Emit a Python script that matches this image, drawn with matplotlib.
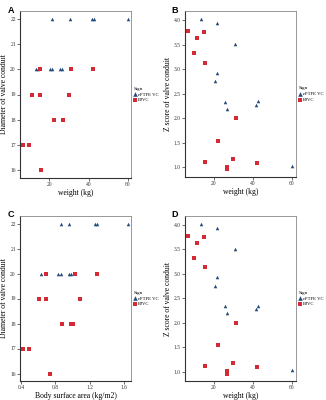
import matplotlib.pyplot as plt

plt.rcParams['font.family'] = ['Liberation Serif', 'DejaVu Serif']

# Panel A / C : diameter of valve conduit
a_tri_w = [21.6, 30.8, 41.7, 42.9, 60.0, 13.0, 14.3, 20.3, 21.3, 25.6, 26.7]
a_tri_d = [22, 22, 22, 22, 22, 20, 20, 20, 20, 20, 20]
a_sq_w = [15.3, 31.3, 42.2, 11.1, 15.3, 29.8, 22.2, 26.8, 26.8, 6.4, 9.6, 15.5]
a_sq_d = [20, 20, 20, 19, 19, 19, 18, 18, 18, 17, 17, 16]

c_tri_bsa = [0.865, 0.954, 1.257, 1.284, 1.64, 0.636, 0.833, 0.861, 0.954, 0.98]
c_tri_d = [22, 22, 22, 22, 22, 20, 20, 20, 20, 20]
c_sq_bsa = [0.687, 1.035, 1.286, 0.609, 0.687, 1.093, 0.876, 0.98, 1.007, 0.427, 0.49, 0.737]
c_sq_d = [20, 20, 20, 19, 19, 19, 18, 18, 18, 17, 17, 16]

# Panel B / D : Z score of valve conduit
b_tri_w = [13.6, 21.7, 30.9, 21.7, 20.7, 25.8, 26.7, 41.8, 43.0, 60.2]
b_tri_z = [4.03, 3.93, 3.51, 2.93, 2.75, 2.34, 2.19, 2.27, 2.35, 1.03]
b_sq_w = [6.9, 11.4, 15.0, 10.0, 15.5, 31.3, 22.2, 15.7, 30.0, 26.9, 26.9, 42.0]
b_sq_z = [3.77, 3.64, 3.75, 3.33, 3.13, 2.0, 1.54, 1.12, 1.18, 1.02, 0.96, 1.09]

col_tri = '#234B7A'
col_sq = '#D42A36'

fig = plt.figure(figsize=(3.26, 4.0), dpi=100)

boxes = {
    'A': [0.0613, 0.555, 0.3405, 0.4175],
    'B': [0.5675, 0.5575, 0.3405, 0.415],
    'C': [0.0613, 0.0475, 0.3405, 0.4125],
    'D': [0.5675, 0.0475, 0.3405, 0.4125],
}
letter_pos = {'A': (8, 6), 'B': (171, 6), 'C': (8, 210), 'D': (171, 210)}


def panel(key, xt, yt, xs, ys, xlabel, ylabel, xticks, yticks, ytl, xlim):
    ax = fig.add_axes(boxes[key])
    ax.scatter(xt, yt, marker='^', s=6.5, color=col_tri, linewidths=0, label='ePTFE VC')
    ax.scatter(xs, ys, marker='s', s=5.5, color=col_sq, linewidths=0, label='BJVC')
    ax.set_xticks(xticks)
    ax.set_yticks(yticks)
    ax.set_yticklabels(ytl)
    ax.set_xlim(xlim)
    ax.set_xlabel(xlabel, fontsize=5.5, labelpad=1.5)
    ax.set_ylabel(ylabel, fontsize=5.5, labelpad=1.5)
    ax.tick_params(labelsize=4, length=2, width=0.5, pad=1, colors='#333333')
    for s in ['left', 'bottom']:
        ax.spines[s].set_color('#333333')
        ax.spines[s].set_linewidth(0.8)
    for s in ['top', 'right']:
        ax.spines[s].set_color('#888888')
        ax.spines[s].set_linewidth(0.6)
    leg = ax.legend(title='Sign', loc='center left', bbox_to_anchor=(1.0, 0.5),
                    frameon=False, fontsize=3.4, title_fontsize=3.6, markerscale=1.3,
                    handletextpad=0.2, handlelength=0.8, borderpad=0.2,
                    borderaxespad=0.3, labelspacing=0.35)
    leg._legend_box.align = 'left'
    lx, ly = letter_pos[key]
    fig.text(lx / 326, 1 - ly / 400, key, fontsize=6.5, fontweight='bold',
             family='Liberation Sans', va='top', ha='left')
    return ax


dia_ticks = [16, 17, 18, 19, 20, 21, 22]
z_ticks = [1.0, 1.5, 2.0, 2.5, 3.0, 3.5, 4.0]
z_tl = ['1.0', '1.5', '2.0', '2.5', '3.0', '3.5', '4.0']

panel('A', a_tri_w, a_tri_d, a_sq_w, a_sq_d, 'weight (kg)', 'Diameter of valve conduit',
      [20, 40, 60], dia_ticks, [str(t) for t in dia_ticks], (5.0, 61.7))
panel('B', b_tri_w, b_tri_z, b_sq_w, b_sq_z, 'weight (kg)', 'Z score of valve conduit',
      [20, 40, 60], z_ticks, z_tl, (5.2, 62.3))
panel('C', c_tri_bsa, c_tri_d, c_sq_bsa, c_sq_d, 'Body surface area (kg/m2)', 'Diameter of valve conduit',
      [0.4, 0.8, 1.2, 1.6], dia_ticks, [str(t) for t in dia_ticks], (0.39, 1.68))
panel('D', b_tri_w, b_tri_z, b_sq_w, b_sq_z, 'weight (kg)', 'Z score of valve conduit',
      [20, 40, 60], z_ticks, z_tl, (5.2, 62.3))

fig.savefig('out.png', dpi=100)
